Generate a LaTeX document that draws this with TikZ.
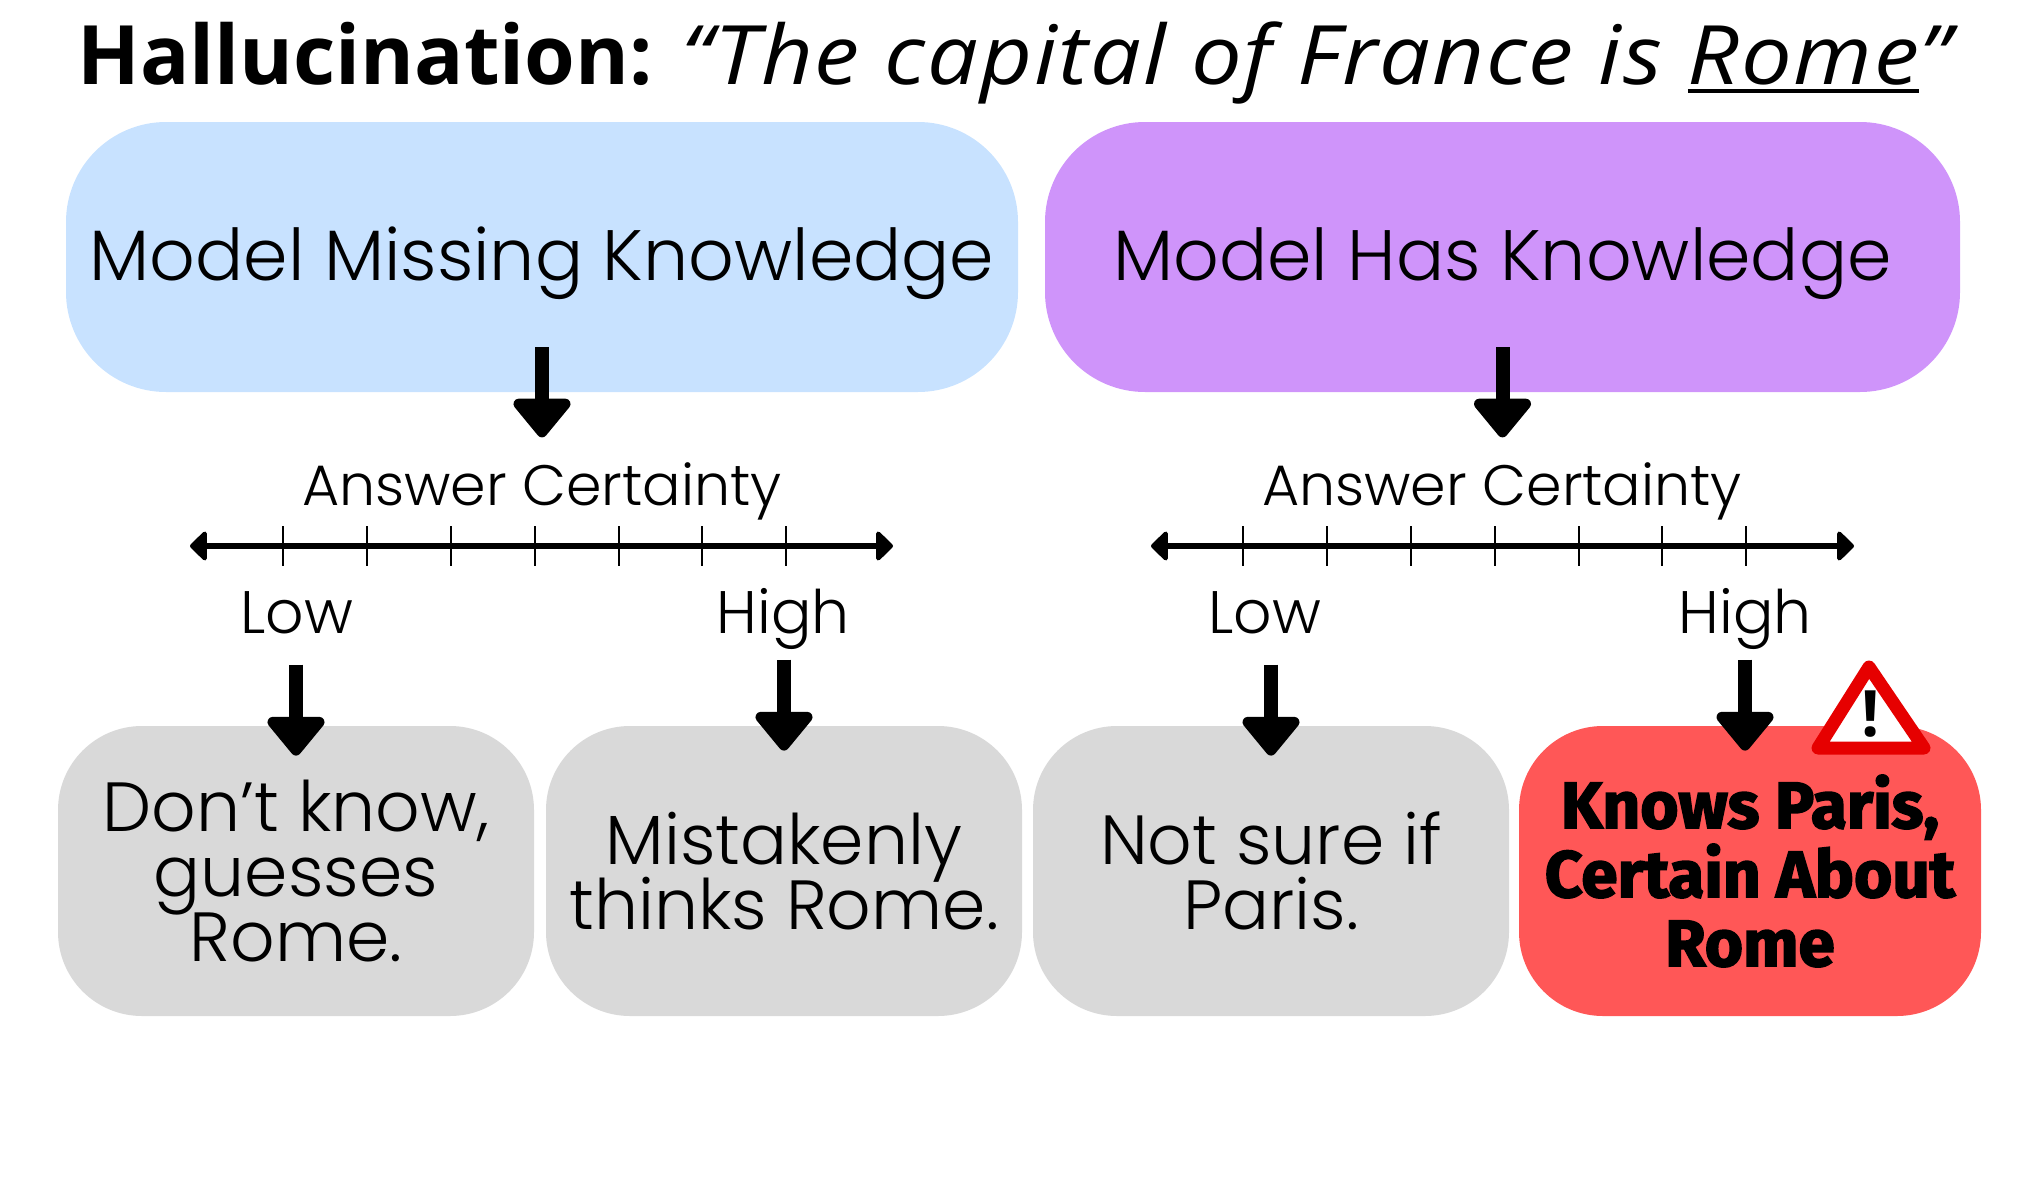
\documentclass[tikz,border=0pt]{standalone}
\usepackage{fontspec}
\usepackage{xcolor}
\setmainfont{Poppins Light}
\newfontfamily\titlefont{Open Sans}
\newfontfamily\heavyfont[BoldFeatures={FakeBold=2.5}]{Fira Sans}
\usetikzlibrary{arrows.meta,positioning}
\newcommand{\tightlines}{\setlength{\lineskiplimit}{-100pt}}
\newsavebox{\ulbox}
\newcommand{\thickul}[1]{\sbox{\ulbox}{#1}\rlap{\rule[-4.5pt]{\wd\ulbox}{1.8pt}}\usebox{\ulbox}}

\definecolor{missblue}{HTML}{C8E2FF}
\definecolor{haspurple}{HTML}{CF94FA}
\definecolor{boxgray}{HTML}{D9D9D9}
\definecolor{boxred}{HTML}{FF5757}
\definecolor{warnred}{HTML}{E60000}

\begin{document}
\begin{tikzpicture}[
  x=0.5pt,y=-0.5pt,
  bigarrow/.style={line width=7pt,-{Triangle[round,length=21pt,width=33pt]}},
  scalearrow/.style={line width=3.4pt,{Triangle[round,length=9pt,width=17pt]}-{Triangle[round,length=9pt,width=17pt]}},
  scaletick/.style={line width=1.4pt},
  topbox/.style={rounded corners=50pt,minimum width=#1,minimum height=135pt,inner sep=0pt,
                 align=center,text height=31pt,text depth=7.5pt,font=\fontsize{35.7}{40}\selectfont},
  casebox/.style={rounded corners=42pt,minimum width=#1,minimum height=145pt,inner sep=0pt,
                  align=center,font=\tightlines\fontsize{34.8}{32.5}\selectfont},
  scalelabel/.style={anchor=base,font=\fontsize{28.5}{32}\selectfont,inner sep=0pt},
  levellabel/.style={anchor=base,font=\fontsize{30}{32}\selectfont,inner sep=0pt},
]
\useasboundingbox (0,0) rectangle (2034,1183);

% ---- title ----
\node[inner sep=0pt,anchor=base west] (title) at (77,84)
  {\titlefont\fontsize{41}{48}\selectfont\textbf{Hallucination:} \addfontfeature{FakeStretch=1.1,LetterSpace=2.2}\textit{“The capital of France is \thickul{Rome}”}};

% ---- knowledge boxes ----
\node[topbox=476pt,fill=missblue]  (missing) at (542,257)  {Model Missing Knowledge};
\node[topbox=457.5pt,fill=haspurple] (has)   at (1502.5,257) {Model Has Knowledge};

% ---- outcome boxes ----
\node[casebox=238pt,fill=boxgray] (guess)    at (296,871)  {Don’t know,\\guesses\\Rome.};
\node[casebox=238pt,fill=boxgray] (mistaken) at (784,871)  {Mistakenly\\thinks Rome.};
\node[casebox=238pt,fill=boxgray] (unsure)   at (1271,871) {Not sure if\\Paris.};
\node[casebox=231pt,fill=boxred,font=\tightlines\heavyfont\bfseries\fontsize{32.8}{34.5}\selectfont] (certain) at (1750,871)
  {Knows Paris,\\Certain About\\Rome};

% ---- certainty scales ----
\node[scalelabel] (certl) at (542,505)  {Answer Certainty};
\node[scalelabel] (certr) at (1502,505) {Answer Certainty};
\node[levellabel] (lowl)  at (297,633)  {Low};
\node[levellabel] (highl) at (783,633)  {High};
\node[levellabel] (lowr)  at (1265,633) {Low};
\node[levellabel] (highr) at (1745,633) {High};

\coordinate (scalels) at (190,546);
\coordinate (scalele) at (893,546);
\coordinate (scalers) at (1151,546);
\coordinate (scalere) at (1854,546);
\draw[scalearrow] (scalels) -- (scalele);
\draw[scalearrow] (scalers) -- (scalere);
\foreach \t in {283,367,451,535,619,702,786} {
  \draw[scaletick] (\t,526) -- (\t,566);
  \draw[scaletick] (\t+960,526) -- (\t+960,566);
}

% ---- arrows ----
\draw[bigarrow] ([yshift=22.5pt]missing.south) -- ([yshift=-22.5pt]missing.south);
\draw[bigarrow] ([yshift=22.5pt]has.south) -- ([yshift=-22.5pt]has.south);
\draw[bigarrow] ([yshift=30.5pt]guess.north) -- ([yshift=-15pt]guess.north);
\draw[bigarrow] ([yshift=33pt]mistaken.north) -- ([yshift=-12.5pt]mistaken.north);
\draw[bigarrow] ([yshift=30.5pt]unsure.north) -- ([yshift=-15pt]unsure.north);
\draw[bigarrow] ([yshift=33pt]certain.north -| highr) -- ([yshift=-12.5pt]certain.north -| highr);

% ---- warning sign ----
\coordinate (warntop) at (1869,667);
\coordinate (warnleft) at (1818,748);
\coordinate (warnright) at (1924,748);
\draw[warnred,fill=white,line width=6.5pt,line join=round] (warntop) -- (warnleft) -- (warnright) -- cycle;
\node[inner sep=0pt,font=\titlefont\bfseries\fontsize{32}{32}\selectfont] (warnmark) at (1871,714) {!};
\end{tikzpicture}
\end{document}
